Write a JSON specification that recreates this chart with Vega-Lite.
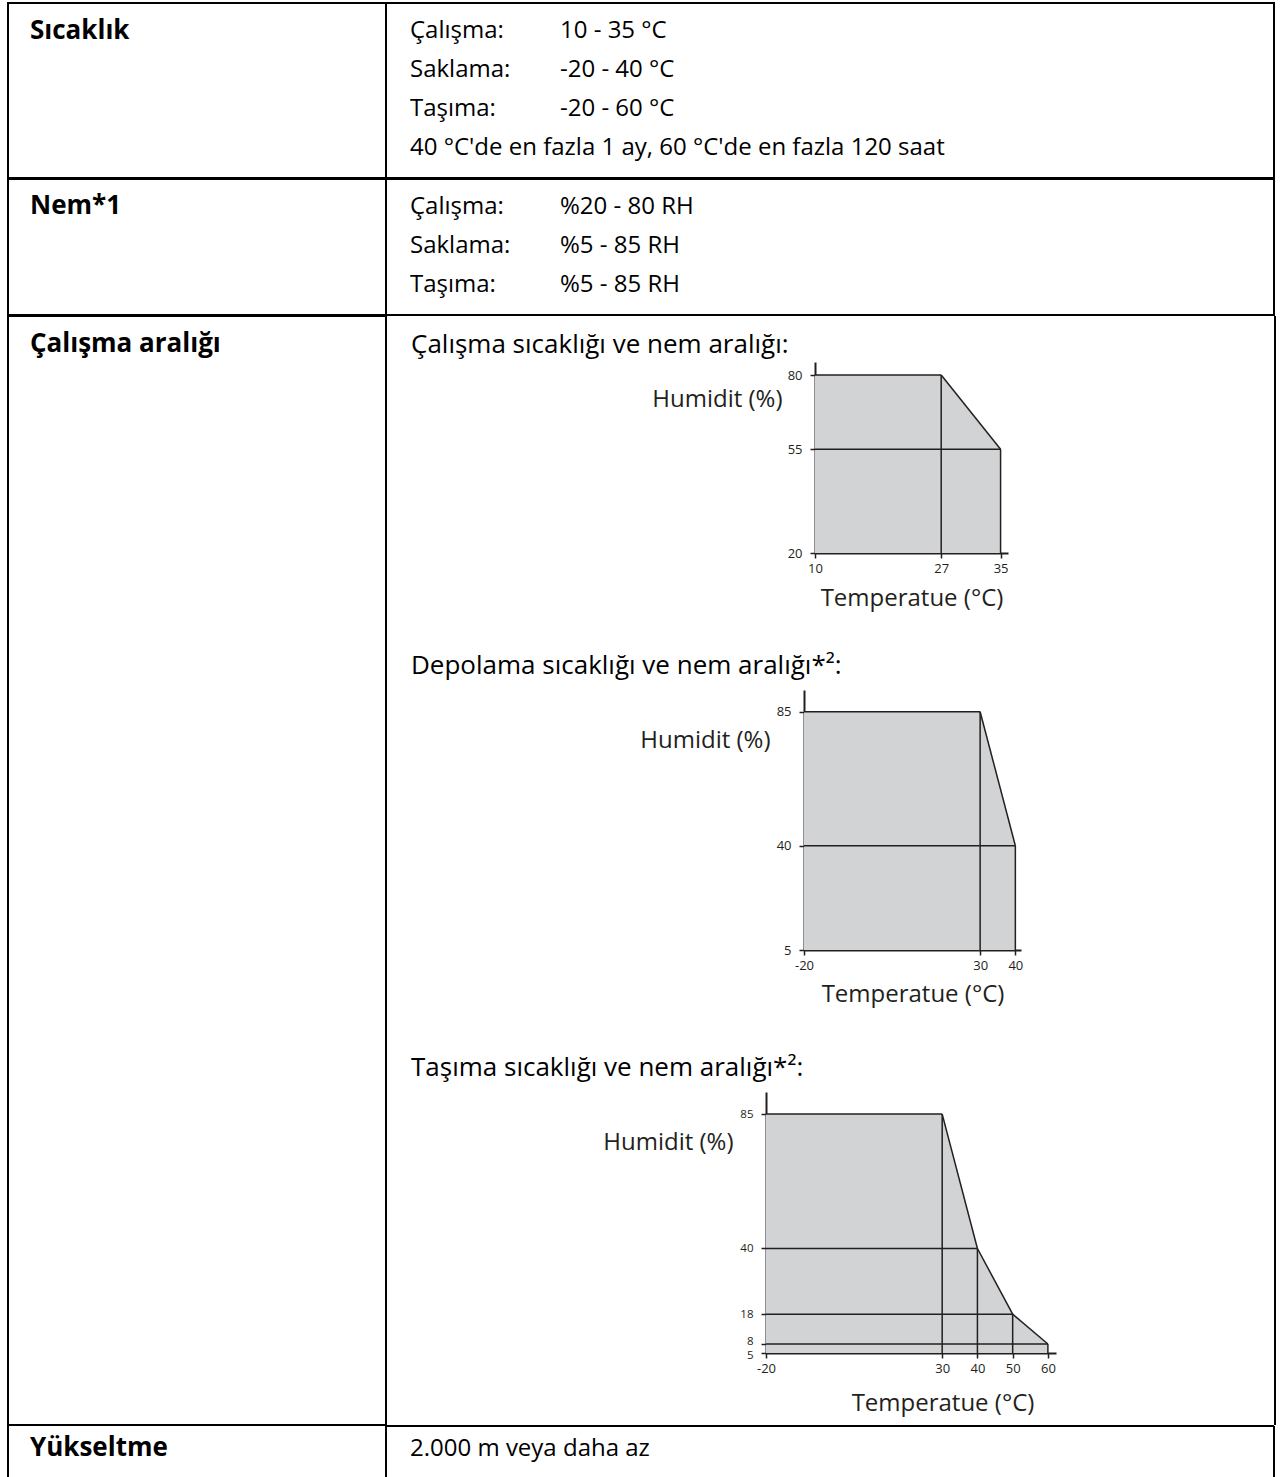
{
  "$schema": "https://vega.github.io/schema/vega-lite/v6.json",
  "usermeta": {"embedOptions": {"actions": false}},
  "background": "white",
  "padding": {"left": 7, "top": 2, "right": 0, "bottom": 0},
  "config": {
    "font": "Open Sans",
    "view": {"stroke": null},
    "axis": {
      "grid": false, "domainColor": "#231f20", "domainWidth": 2,
      "tickColor": "#231f20", "tickWidth": 1.5, "tickSize": 5,
      "labelFont": "Open Sans", "labelFontSize": 13, "labelColor": "#231f20",
      "labelOverlap": false, "labelFlush": false, "labelExpr": "'' + datum.value",
      "titleFont": "Open Sans", "titleFontSize": 24, "titleFontWeight": "normal",
      "titleColor": "#231f20", "titleBaseline": "alphabetic"
    },
    "text": {"font": "Open Sans", "color": "#000", "fontSize": 24, "align": "left", "baseline": "alphabetic"}
  },
  "spacing": -2,
  "vconcat": [
    {
      "spacing": 0, "bounds": "flush",
      "hconcat": [
        {
          "width": 378, "height": 175, "view": {"stroke": "#000", "strokeWidth": 2},
          "data": {"values": [{"label": "Sıcaklık"}]},
          "mark": {"type": "text", "fontWeight": "bold", "fontSize": 26},
          "encoding": {"text": {"field": "label"}, "x": {"value": 22}, "y": {"value": 36}}
        },
        {
          "width": 888, "height": 175, "view": {"stroke": "#000", "strokeWidth": 2},
          "data": {"values": [
            {"line": 0, "col": 0, "text": "Çalışma:"}, {"line": 0, "col": 1, "text": "10 - 35 °C"},
            {"line": 1, "col": 0, "text": "Saklama:"}, {"line": 1, "col": 1, "text": "-20 - 40 °C"},
            {"line": 2, "col": 0, "text": "Taşıma:"}, {"line": 2, "col": 1, "text": "-20 - 60 °C"},
            {"line": 3, "col": 0, "text": "40 °C'de en fazla 1 ay, 60 °C'de en fazla 120 saat"}
          ]},
          "mark": "text",
          "encoding": {
            "text": {"field": "text"},
            "x": {"field": "col", "type": "quantitative", "scale": {"domain": [0, 1], "range": [24, 174]}, "axis": null},
            "y": {"field": "line", "type": "quantitative", "scale": {"domain": [0, 3], "range": [35, 152]}, "axis": null}
          }
        }
      ]
    },
    {
      "spacing": 0, "bounds": "flush",
      "hconcat": [
        {
          "width": 378, "height": 136, "view": {"stroke": "#000", "strokeWidth": 2},
          "data": {"values": [{"label": "Nem*1"}]},
          "mark": {"type": "text", "fontWeight": "bold", "fontSize": 26},
          "encoding": {"text": {"field": "label"}, "x": {"value": 22}, "y": {"value": 35}}
        },
        {
          "width": 888, "height": 136, "view": {"stroke": "#000", "strokeWidth": 2},
          "data": {"values": [
            {"line": 0, "col": 0, "text": "Çalışma:"}, {"line": 0, "col": 1, "text": "%20 - 80 RH"},
            {"line": 1, "col": 0, "text": "Saklama:"}, {"line": 1, "col": 1, "text": "%5 - 85 RH"},
            {"line": 2, "col": 0, "text": "Taşıma:"}, {"line": 2, "col": 1, "text": "%5 - 85 RH"}
          ]},
          "mark": "text",
          "encoding": {
            "text": {"field": "text"},
            "x": {"field": "col", "type": "quantitative", "scale": {"domain": [0, 1], "range": [24, 174]}, "axis": null},
            "y": {"field": "line", "type": "quantitative", "scale": {"domain": [0, 2], "range": [35, 113]}, "axis": null}
          }
        }
      ]
    },
    {
      "spacing": -1,
      "hconcat": [
        {
          "width": 378, "height": 1109, "view": {"stroke": "#000", "strokeWidth": 2},
          "data": {"values": [{"label": "Çalışma aralığı"}]},
          "mark": {"type": "text", "fontWeight": "bold", "fontSize": 26},
          "encoding": {"text": {"field": "label"}, "x": {"value": 22}, "y": {"value": 36}}
        },
        {
          "spacing": 0,
          "vconcat": [
            {
              "width": 888, "height": 46,
              "data": {"values": [{"t": "Çalışma sıcaklığı ve nem aralığı:"}]},
              "mark": {"type": "text", "fontSize": 26},
              "encoding": {"text": {"field": "t"}, "x": {"value": 24}, "y": {"value": 37}}
            },
            {
              "spacing": 0, "bounds": "flush",
              "hconcat": [
                {"width": 428, "height": 280, "data": {"values": []}, "mark": "text", "encoding": {}},
                {
                  "width": 193, "height": 191,
                  "encoding": {
                    "x": {"field": "t", "type": "quantitative",
                      "scale": {"domain": [10, 36], "nice": false, "zero": false},
                      "axis": {"title": "Temperatue (°C)", "values": [10, 27, 35], "labelPadding": 4, "titleY": 52}},
                    "y": {"field": "h", "type": "quantitative",
                      "scale": {"domain": [20, 84.4], "nice": false, "zero": false},
                      "axis": {"title": "Humidit (%)", "values": [20, 55, 80], "labelPadding": 8,
                        "titleAngle": 0, "titleAlign": "right", "titleX": -33, "titleY": 44}}
                  },
                  "layer": [
                    {
                      "data": {"values": [{"t": 10, "h": 80}, {"t": 27, "h": 80}, {"t": 35, "h": 55}]},
                      "mark": {"type": "area", "color": "#d1d3d4", "opacity": 1},
                      "encoding": {"y2": {"datum": 20}}
                    },
                    {
                      "data": {"values": [
                        {"t": 10, "h": 80, "t2": 27, "h2": 80},
                        {"t": 27, "h": 80, "t2": 35, "h2": 55},
                        {"t": 35, "h": 55, "t2": 35, "h2": 20},
                        {"t": 27, "h": 20, "t2": 27, "h2": 80},
                        {"t": 10, "h": 55, "t2": 35, "h2": 55}
                      ]},
                      "mark": {"type": "rule", "color": "#231f20", "strokeWidth": 1.5},
                      "encoding": {"x2": {"field": "t2"}, "y2": {"field": "h2"}}
                    }
                  ]
                }
              ]
            },
            {
              "width": 888, "height": 48,
              "data": {"values": [{"t": "Depolama sıcaklığı ve nem aralığı*²:"}]},
              "mark": {"type": "text", "fontSize": 26},
              "encoding": {"text": {"field": "t"}, "x": {"value": 24}, "y": {"value": 32}}
            },
            {
              "spacing": 0, "bounds": "flush",
              "hconcat": [
                {"width": 417, "height": 351, "data": {"values": []}, "mark": "text", "encoding": {}},
                {
                  "width": 217, "height": 260,
                  "encoding": {
                    "x": {"field": "t", "type": "quantitative",
                      "scale": {"domain": [-20, 41.6], "nice": false, "zero": false},
                      "axis": {"title": "Temperatue (°C)", "values": [-20, 30, 40], "labelPadding": 4, "titleY": 51}},
                    "y": {"field": "h", "type": "quantitative",
                      "scale": {"domain": [5, 92.3], "nice": false, "zero": false},
                      "axis": {"title": "Humidit (%)", "values": [5, 40, 85], "labelPadding": 8,
                        "titleAngle": 0, "titleAlign": "right", "titleX": -34, "titleY": 57}}
                  },
                  "layer": [
                    {
                      "data": {"values": [{"t": -20, "h": 85}, {"t": 30, "h": 85}, {"t": 40, "h": 40}]},
                      "mark": {"type": "area", "color": "#d1d3d4", "opacity": 1},
                      "encoding": {"y2": {"datum": 5}}
                    },
                    {
                      "data": {"values": [
                        {"t": -20, "h": 85, "t2": 30, "h2": 85},
                        {"t": 30, "h": 85, "t2": 40, "h2": 40},
                        {"t": 40, "h": 40, "t2": 40, "h2": 5},
                        {"t": 30, "h": 5, "t2": 30, "h2": 85},
                        {"t": -20, "h": 40, "t2": 40, "h2": 40}
                      ]},
                      "mark": {"type": "rule", "color": "#231f20", "strokeWidth": 1.5},
                      "encoding": {"x2": {"field": "t2"}, "y2": {"field": "h2"}}
                    }
                  ]
                }
              ]
            },
            {
              "width": 888, "height": 51,
              "data": {"values": [{"t": "Taşıma sıcaklığı ve nem aralığı*²:"}]},
              "mark": {"type": "text", "fontSize": 26},
              "encoding": {"text": {"field": "t"}, "x": {"value": 24}, "y": {"value": 35}}
            },
            {
              "spacing": 0, "bounds": "flush",
              "hconcat": [
                {"width": 379, "height": 331, "data": {"values": []}, "mark": "text", "encoding": {}},
                {
                  "width": 290, "height": 261,
                  "encoding": {
                    "x": {"field": "t", "type": "quantitative",
                      "scale": {"domain": [-20, 62.3], "nice": false, "zero": false},
                      "axis": {"title": "Temperatue (°C)", "values": [-20, 30, 40, 50, 60], "labelPadding": 4,
                        "titleAlign": "center", "titleX": 176.5, "titleY": 57}},
                    "y": {"field": "h", "type": "quantitative",
                      "scale": {"domain": [5, 92.4], "nice": false, "zero": false},
                      "axis": {"title": "Humidit (%)", "values": [5, 8, 18, 40, 85], "labelPadding": 8,
                        "labelFontSize": 11.5,
                        "labelOffset": {"condition": [{"test": "datum.value == 8", "value": -2.5}, {"test": "datum.value == 5", "value": 2.5}], "value": 0},
                        "titleAngle": 0, "titleAlign": "right", "titleX": -33, "titleY": 57}}
                  },
                  "layer": [
                    {
                      "data": {"values": [{"t": -20, "h": 85}, {"t": 30, "h": 85}, {"t": 40, "h": 40}, {"t": 50, "h": 18}, {"t": 60, "h": 8}]},
                      "mark": {"type": "area", "color": "#d1d3d4", "opacity": 1},
                      "encoding": {"y2": {"datum": 5}}
                    },
                    {
                      "data": {"values": [
                        {"t": -20, "h": 85, "t2": 30, "h2": 85},
                        {"t": 30, "h": 85, "t2": 40, "h2": 40},
                        {"t": 40, "h": 40, "t2": 50, "h2": 18},
                        {"t": 50, "h": 18, "t2": 60, "h2": 8},
                        {"t": 60, "h": 8, "t2": 60, "h2": 5},
                        {"t": 30, "h": 5, "t2": 30, "h2": 85},
                        {"t": 40, "h": 5, "t2": 40, "h2": 40},
                        {"t": 50, "h": 5, "t2": 50, "h2": 18},
                        {"t": -20, "h": 40, "t2": 40, "h2": 40},
                        {"t": -20, "h": 18, "t2": 50, "h2": 18},
                        {"t": -20, "h": 8, "t2": 60, "h2": 8}
                      ]},
                      "mark": {"type": "rule", "color": "#231f20", "strokeWidth": 1.5},
                      "encoding": {"x2": {"field": "t2"}, "y2": {"field": "h2"}}
                    }
                  ]
                }
              ]
            }
          ]
        },
        {
          "width": 1, "height": 1109,
          "data": {"values": [{"e": 0}]},
          "mark": {"type": "rule", "color": "#000", "strokeWidth": 2},
          "encoding": {"x": {"field": "e", "type": "quantitative", "scale": {"domain": [0, 1]}, "axis": null}}
        }
      ]
    },
    {
      "spacing": 0, "bounds": "flush",
      "hconcat": [
        {
          "width": 378, "height": 53,
          "layer": [
            {
              "data": {"values": [{"e": 0}, {"e": 1}]},
              "mark": {"type": "rule", "color": "#000", "strokeWidth": 2},
              "encoding": {"x": {"field": "e", "type": "quantitative", "scale": {"domain": [0, 1]}, "axis": null}}
            },
            {
              "data": {"values": [{"label": "Yükseltme"}]},
              "mark": {"type": "text", "fontWeight": "bold", "fontSize": 26},
              "encoding": {"text": {"field": "label"}, "x": {"value": 22}, "y": {"value": 30}}
            }
          ]
        },
        {
          "width": 888, "height": 53,
          "layer": [
            {
              "data": {"values": [{"e": 1}]},
              "mark": {"type": "rule", "color": "#000", "strokeWidth": 2},
              "encoding": {"x": {"field": "e", "type": "quantitative", "scale": {"domain": [0, 1]}, "axis": null}}
            },
            {
              "data": {"values": [{"e": 1}]},
              "mark": {"type": "rule", "color": "#000", "strokeWidth": 2},
              "encoding": {"y": {"field": "e", "type": "quantitative", "scale": {"domain": [0, 1]}, "axis": null}}
            },
            {
              "data": {"values": [{"t": "2.000 m veya daha az"}]},
              "mark": "text",
              "encoding": {"text": {"field": "t"}, "x": {"value": 24}, "y": {"value": 30}}
            }
          ]
        }
      ]
    }
  ]
}
